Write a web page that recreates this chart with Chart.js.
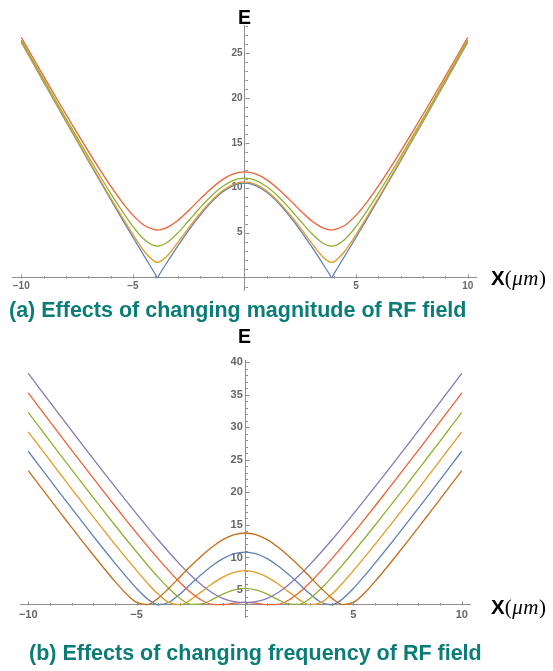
<!DOCTYPE html>
<html>
<head>
<meta charset="utf-8">
<script src="https://cdn.jsdelivr.net/npm/chart.js@4.4.1/dist/chart.umd.min.js"></script>
<style>
    body { margin: 0; background: #fff; width: 553px; height: 671px; position: relative; overflow: hidden; }
    canvas { position: absolute; left: 0; }
    #chartTop { top: 0; }
    #chartBottom { top: 330px; }
    .label-e { position: absolute; left: 238px; font: bold 19.5px "Liberation Sans", Arial, sans-serif; line-height: 1; color: #000; }
    .label-x { position: absolute; left: 491px; font: bold 20.5px "Liberation Sans", Arial, sans-serif; line-height: 1; color: #000; white-space: nowrap; }
    .label-x span { font: 21px "Liberation Serif", "Times New Roman", serif; letter-spacing: 0.5px; }
    .caption { position: absolute; font: bold 21.5px "Liberation Sans", Arial, sans-serif; line-height: 1; color: #0b7c76; white-space: nowrap; }
</style>
</head>
<body>
<canvas id="chartTop" width="553" height="330"></canvas>
<canvas id="chartBottom" width="553" height="341"></canvas>

<div class="label-e" style="top: 7.5px;">E</div>
<div class="label-x" style="top: 266px;">X<span>(<i>μm</i>)</span></div>
<div class="caption" style="left: 9px; top: 300px;">(a) Effects of changing magnitude of RF field</div>

<div class="label-e" style="top: 326.5px;">E</div>
<div class="label-x" style="top: 594.5px;">X<span>(<i>μm</i>)</span></div>
<div class="caption" style="left: 29px; top: 643px;">(b) Effects of changing frequency of RF field</div>

<script>
// Posiciones x (μm) de la gráfica (a)
const topX = [-10, -9.5, -9, -8.5, -8, -7.5, -7, -6.5, -6, -5.5, -5, -4.5, -4, -3.9, -3.8, -3.5, -3, -2.5, -2, -1.5, -1, -0.5,
    0, 0.5, 1, 1.5, 2, 2.5, 3, 3.5, 3.8, 3.9, 4, 4.5, 5, 5.5, 6, 6.5, 7, 7.5, 8, 8.5, 9, 9.5, 10];

// Energía E para cada magnitud del campo RF
const topBlue = [26.20, 23.99, 21.78, 19.58, 17.38, 15.20, 13.02, 10.86, 8.72, 6.59, 4.49, 2.43, 0.40, 0, 0.40, 1.57, 3.47, 5.26, 6.90, 8.34, 9.49, 10.24,
    10.50, 10.24, 9.49, 8.34, 6.90, 5.26, 3.47, 1.57, 0.40, 0, 0.40, 2.43, 4.49, 6.59, 8.72, 10.86, 13.02, 15.20, 17.38, 19.58, 21.78, 23.99, 26.20];
const topOrange = [26.26, 24.05, 21.84, 19.65, 17.47, 15.29, 13.13, 11.00, 8.88, 6.81, 4.80, 2.96, 1.75, 1.70, 1.75, 2.32, 3.86, 5.53, 7.11, 8.51, 9.64, 10.38,
    10.64, 10.38, 9.64, 8.51, 7.11, 5.53, 3.86, 2.32, 1.75, 1.70, 1.75, 2.96, 4.80, 6.81, 8.88, 11.00, 13.13, 15.29, 17.47, 19.65, 21.84, 24.05, 26.26];
const topGreen = [26.43, 24.24, 22.06, 19.89, 17.73, 15.60, 13.49, 11.41, 9.39, 7.47, 5.70, 4.26, 3.52, 3.50, 3.52, 3.84, 4.93, 6.32, 7.74, 9.05, 10.11, 10.82,
    11.07, 10.82, 10.11, 9.05, 7.74, 6.32, 4.93, 3.84, 3.52, 3.50, 3.52, 4.26, 5.70, 7.47, 9.39, 11.41, 13.49, 15.60, 17.73, 19.89, 22.06, 24.24, 26.43];
const topRed = [26.73, 24.57, 22.41, 20.28, 18.17, 16.10, 14.06, 12.09, 10.20, 8.46, 6.95, 5.83, 5.32, 5.30, 5.32, 5.53, 6.33, 7.47, 8.70, 9.88, 10.87, 11.53,
    11.76, 11.53, 10.87, 9.88, 8.70, 7.47, 6.33, 5.53, 5.32, 5.30, 5.32, 5.83, 6.95, 8.46, 10.20, 12.09, 14.06, 16.10, 18.17, 20.28, 22.41, 24.57, 26.73];

// Posiciones x (μm) de la gráfica (b)
const botX = [-10, -9.5, -9, -8.5, -8, -7.5, -7, -6.5, -6, -5.5, -5, -4.5, -4, -3.5, -3, -2.5, -2, -1.5, -1, -0.5,
    0, 0.5, 1, 1.5, 2, 2.5, 3, 3.5, 4, 4.5, 5, 5.5, 6, 6.5, 7, 7.5, 8, 8.5, 9, 9.5, 10];

// Energía E para cada frecuencia del campo RF
const botBlue = [26.34, 24.14, 21.95, 19.76, 17.59, 15.44, 13.30, 11.19, 9.13, 7.13, 5.24, 3.63, 2.73, 3.12, 4.39, 5.91, 7.41, 8.77, 9.86, 10.59,
    10.84, 10.59, 9.86, 8.77, 7.41, 5.91, 4.39, 3.12, 2.73, 3.63, 5.24, 7.13, 9.13, 11.19, 13.30, 15.44, 17.59, 19.76, 21.95, 24.14, 26.34];
const botOrange = [29.33, 27.12, 24.93, 22.74, 20.56, 18.40, 16.25, 14.12, 12.03, 9.97, 7.97, 6.06, 4.34, 3.05, 2.74, 3.52, 4.75, 5.99, 7.03, 7.72,
    7.97, 7.72, 7.03, 5.99, 4.75, 3.52, 2.74, 3.05, 4.34, 6.06, 7.97, 9.97, 12.03, 14.12, 16.25, 18.40, 20.56, 22.74, 24.93, 27.12, 29.33];
const botGreen = [32.31, 30.11, 27.91, 25.72, 23.54, 21.37, 19.22, 17.08, 14.96, 12.88, 10.84, 8.85, 6.95, 5.19, 3.70, 2.80, 2.85, 3.57, 4.41, 5.02,
    5.25, 5.02, 4.41, 3.57, 2.85, 2.80, 3.70, 5.19, 6.95, 8.85, 10.84, 12.88, 14.96, 17.08, 19.22, 21.37, 23.54, 25.72, 27.91, 30.11, 32.31];
const botRed = [35.30, 33.10, 30.90, 28.70, 26.52, 24.35, 22.19, 20.05, 17.92, 15.83, 13.76, 11.74, 9.78, 7.90, 6.16, 4.61, 3.42, 2.78, 2.74, 2.97,
    3.09, 2.97, 2.74, 2.78, 3.42, 4.61, 6.16, 7.90, 9.78, 11.74, 13.76, 15.83, 17.92, 20.05, 22.19, 24.35, 26.52, 28.70, 30.90, 33.10, 35.30];
const botPurple = [38.30, 36.10, 33.89, 31.69, 29.51, 27.33, 25.17, 23.02, 20.89, 18.79, 16.71, 14.68, 12.69, 10.77, 8.95, 7.26, 5.77, 4.55, 3.69, 3.23,
    3.09, 3.23, 3.69, 4.55, 5.77, 7.26, 8.95, 10.77, 12.69, 14.68, 16.71, 18.79, 20.89, 23.02, 25.17, 27.33, 29.51, 31.69, 33.89, 36.10, 38.30];
const botBrown = [23.36, 21.16, 18.97, 16.80, 14.63, 12.49, 10.38, 8.31, 6.32, 4.49, 3.09, 2.76, 3.75, 5.31, 7.01, 8.69, 10.27, 11.66, 12.78, 13.51,
    13.77, 13.51, 12.78, 11.66, 10.27, 8.69, 7.01, 5.31, 3.75, 2.76, 3.09, 4.49, 6.32, 8.31, 10.38, 12.49, 14.63, 16.80, 18.97, 21.16, 23.36];

// Marcas de los ejes (las principales llevan número)
const xMajor = [-10, -5, 5, 10];
const topYMajor = [5, 10, 15, 20, 25];
const botYMajor = [5, 10, 15, 20, 25, 30, 35, 40];

// Colores de las curvas
const COLORS = {
    blue: '#5e81b5', orange: '#e19c24', green: '#8fb032',
    red: '#eb6235', purple: '#8778b3', brown: '#c56e1a'
};
const AXIS_GRAY = '#8f8f8f';
const LABEL_GRAY = '#666666';

function range(a, b) {
    const out = [];
    for (let v = a; v <= b; v++) if (v !== 0) out.push(v);
    return out;
}

function tickText(v) {
    return v < 0 ? '\u2212' + Math.abs(v) : String(v);
}

// Dibuja las marcas cortas sobre los ejes (hacia arriba y hacia la derecha)
const axisTicks = {
    id: 'axisTicks',
    afterDraw(chart, args, opts) {
        const { ctx } = chart;
        const xs = chart.scales.x;
        const ys = chart.scales.y;
        const y0 = Math.round(ys.getPixelForValue(opts.xAxisAt)) + 0.5;
        const x0 = Math.round(xs.getPixelForValue(0)) + 0.5;
        ctx.save();
        ctx.strokeStyle = AXIS_GRAY;
        ctx.lineWidth = 1;
        ctx.beginPath();
        xs.ticks.forEach(t => {
            const px = Math.round(xs.getPixelForValue(t.value)) + 0.5;
            const len = opts.xMajor.includes(t.value) ? 4 : 2.5;
            ctx.moveTo(px, y0);
            ctx.lineTo(px, y0 - len);
        });
        ys.ticks.forEach(t => {
            const py = Math.round(ys.getPixelForValue(t.value)) + 0.5;
            const len = opts.yMajor.includes(t.value) ? 4 : 2.5;
            ctx.moveTo(x0, py);
            ctx.lineTo(x0 + len, py);
        });
        ctx.stroke();
        ctx.restore();
    }
};

function makeChart(id, xs, series, cfg) {
    const tickFont = { family: '"Liberation Sans", Arial, sans-serif', size: cfg.fontSize, weight: 'bold' };
    return new Chart(document.getElementById(id), {
        type: 'line',
        data: {
            datasets: series.map((s, i) => ({
                data: xs.map((x, k) => ({ x: x, y: s.values[k] })),
                borderColor: s.color,
                borderWidth: 1.3,
                pointRadius: 0,
                fill: false,
                cubicInterpolationMode: 'monotone',
                order: series.length - i
            }))
        },
        options: {
            responsive: false,
            animation: false,
            events: [],
            layout: { padding: cfg.padding },
            plugins: {
                legend: { display: false },
                tooltip: { enabled: false },
                axisTicks: { xAxisAt: cfg.xAxisAt, xMajor: xMajor, yMajor: cfg.yMajor }
            },
            scales: {
                x: {
                    type: 'linear',
                    min: cfg.xMin,
                    max: cfg.xMax,
                    position: { y: cfg.xAxisAt },
                    grid: { display: false, drawTicks: false },
                    border: { color: AXIS_GRAY, width: 1 },
                    afterBuildTicks: axis => { axis.ticks = range(-10, 10).map(v => ({ value: v })); },
                    ticks: {
                        autoSkip: false,
                        maxRotation: 0,
                        padding: 3,
                        color: LABEL_GRAY,
                        font: tickFont,
                        callback: v => xMajor.includes(v) ? tickText(v) : ''
                    }
                },
                y: {
                    type: 'linear',
                    min: cfg.yMin,
                    max: cfg.yMax,
                    position: { x: 0 },
                    grid: { display: false, drawTicks: false },
                    border: { color: AXIS_GRAY, width: 1 },
                    afterBuildTicks: axis => { axis.ticks = range(cfg.yTickFrom, cfg.yTickTo).map(v => ({ value: v })); },
                    ticks: {
                        autoSkip: false,
                        color: LABEL_GRAY,
                        font: tickFont,
                        callback: v => cfg.yMajor.includes(v) ? tickText(v) + '\u2009' : ''
                    }
                }
            }
        },
        plugins: [axisTicks]
    });
}

// (a) magnitud del campo RF
makeChart('chartTop', topX, [
    { values: topBlue, color: COLORS.blue },
    { values: topOrange, color: COLORS.orange },
    { values: topGreen, color: COLORS.green },
    { values: topRed, color: COLORS.red }
], {
    padding: { left: 12.3, right: 76.3, top: 25, bottom: 40 },
    xMin: -10.4, xMax: 10.4, yMin: -1.38, yMax: 28.1,
    xAxisAt: 0, yMajor: topYMajor, yTickFrom: -1, yTickTo: 28, fontSize: 10
});

// (b) frecuencia del campo RF
makeChart('chartBottom', botX, [
    { values: botBlue, color: COLORS.blue },
    { values: botOrange, color: COLORS.orange },
    { values: botGreen, color: COLORS.green },
    { values: botRed, color: COLORS.red },
    { values: botPurple, color: COLORS.purple },
    { values: botBrown, color: COLORS.brown }
], {
    padding: { left: 20, right: 83, top: 30, bottom: 54 },
    xMin: -10.38, xMax: 10.38, yMin: 0.85, yMax: 40.37,
    xAxisAt: 2.7, yMajor: botYMajor, yTickFrom: 1, yTickTo: 40, fontSize: 11
});
</script>
</body>
</html>
